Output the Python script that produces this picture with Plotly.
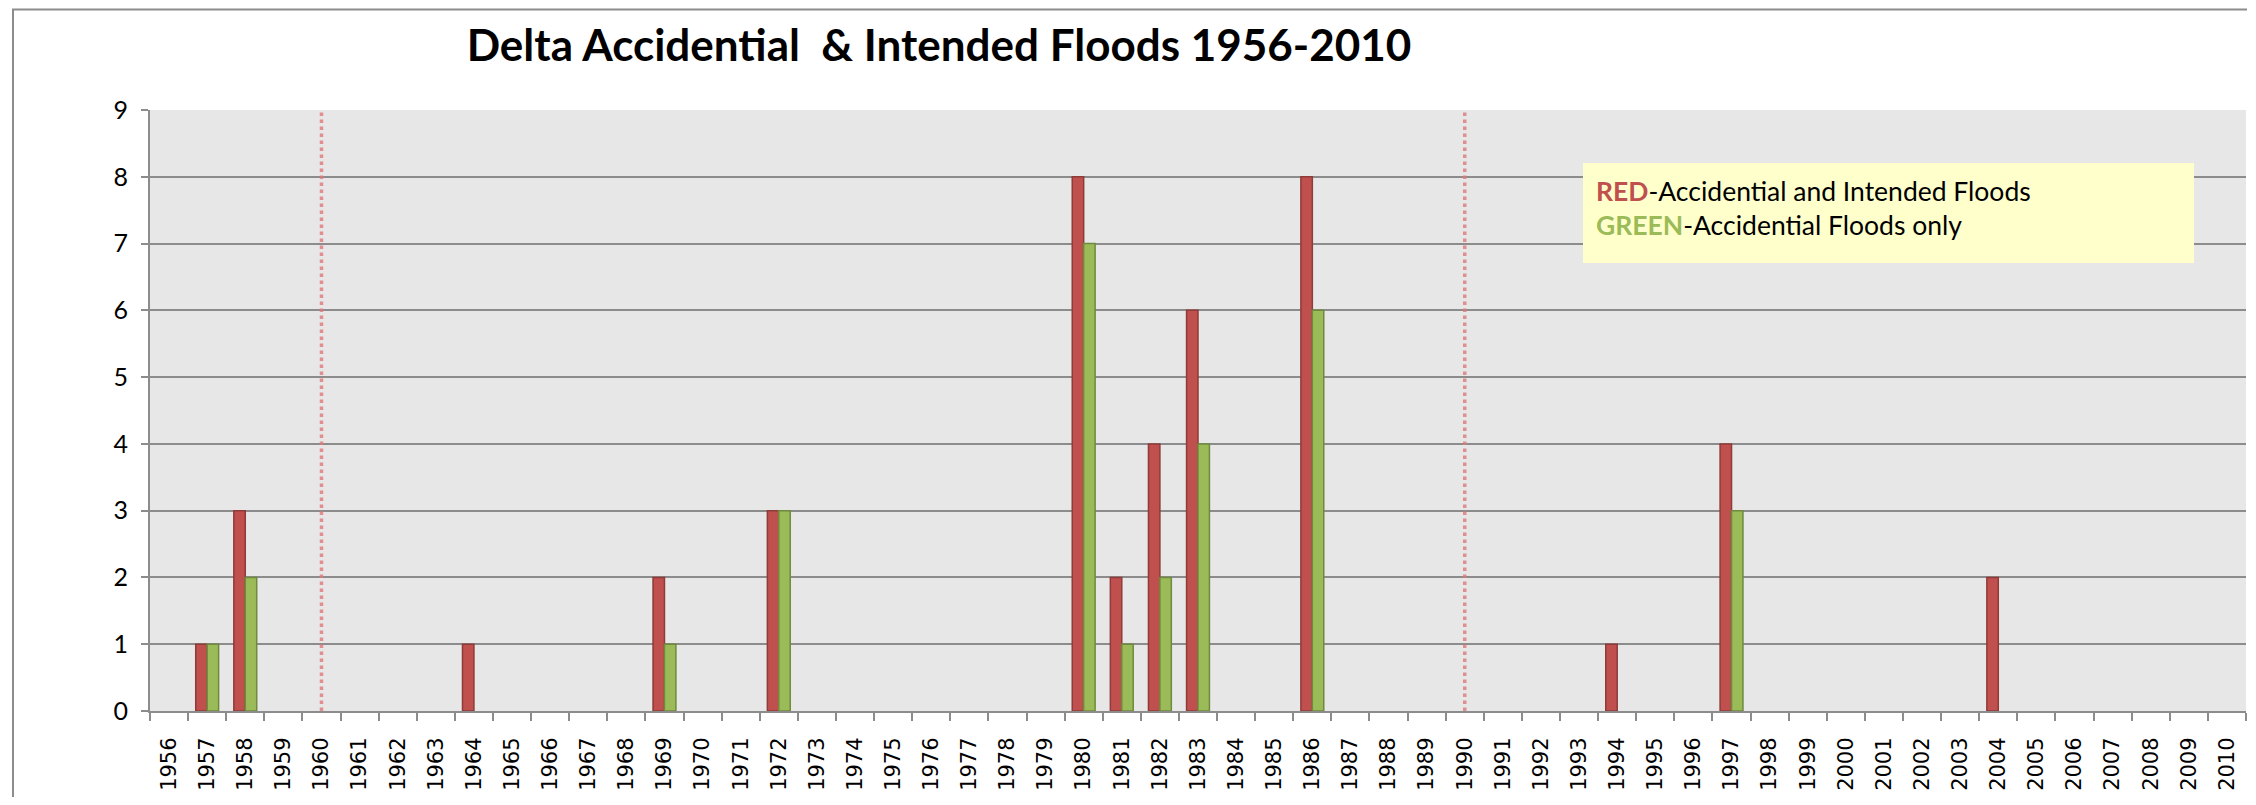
import plotly.graph_objects as go

years = [str(y) for y in range(1956, 2011)]
red_counts = {1957: 1, 1958: 3, 1964: 1, 1969: 2, 1972: 3, 1980: 8, 1981: 2,
              1982: 4, 1983: 6, 1986: 8, 1994: 1, 1997: 4, 2004: 2}
green_counts = {1957: 1, 1958: 2, 1969: 1, 1972: 3, 1980: 7, 1981: 1,
                1982: 2, 1983: 4, 1986: 6, 1997: 3}
red_values = [red_counts.get(int(y), 0) for y in years]
green_values = [green_counts.get(int(y), 0) for y in years]
divider_years = ["1960", "1990"]
y_ticks = list(range(0, 10))

# page body has an 8px margin; figure sized to fit inside the window
OFF = 8
W, H = 2256 - 2 * OFF, 805 - 2 * OFF
# plot area in reference (window) pixels: x 150..2246, y 110..711
L = 150 - OFF
T = 110 - OFF
R = W - (2246 - OFF)
B = H - (711 - OFF)
pw, ph = W - L - R, H - T - B

def px(x):
    return (x - OFF - L) / pw

def py(y):
    return (H - B - (y - OFF)) / ph

def outline(vals, w):
    return [w if v > 0 else 0 for v in vals]

fig = go.Figure()
fig.add_trace(go.Bar(x=years, y=red_values, name="Accidential and Intended",
                     marker=dict(color="#C0504D",
                                 line=dict(color="#8E3B39", width=outline(red_values, 1.5)))))
fig.add_trace(go.Bar(x=years, y=green_values, name="Accidential only",
                     marker=dict(color="#9BBB59",
                                 line=dict(color="#6F8A3C", width=outline(green_values, 1.5)))))

shapes = []
for yr in divider_years:
    idx = years.index(yr)
    shapes.append(dict(type="line", xref="x", yref="y", x0=idx, x1=idx, y0=0, y1=9.05,
                       line=dict(color="rgba(222,120,120,0.8)", width=3.5, dash="dot"),
                       layer="above"))
# legend box
shapes.append(dict(type="rect", xref="paper", yref="paper",
                   x0=px(1583), x1=px(2194), y0=py(263), y1=py(163),
                   fillcolor="#FFFFCC", line=dict(width=0), layer="above"))
# outer chart border
shapes.append(dict(type="path", xref="paper", yref="paper",
                   path=f"M {px(2247)} {py(9.5)} L {px(13)} {py(9.5)} L {px(13)} {py(810)}",
                   line=dict(color="#8C8C8C", width=2), layer="above"))

fig.update_layout(
    width=W, height=H,
    margin=dict(l=L, r=R, t=T, b=B, autoexpand=False),
    paper_bgcolor="white", plot_bgcolor="#E7E7E7",
    barmode="group", bargap=0.40, bargroupgap=0,
    showlegend=False,
    title=dict(text="<b>Delta Accidential  &amp; Intended Floods 1956-2010</b>",
               x=px(939), xanchor="center", y=1 - (46 - OFF) / H, yanchor="middle",
               xref="paper",
               font=dict(family="Lato", size=44, color="black")),
    shapes=shapes,
    annotations=[dict(
        xref="paper", yref="paper", x=px(1594), y=py(208), xanchor="left", yanchor="middle",
        align="left", showarrow=False,
        text=("<span style='color:#C0504D'><b>RED</b></span>-Accidential and Intended Floods<br>"
              "<span style='color:#9BBB59'><b>GREEN</b></span>-Accidential Floods only"),
        font=dict(family="Lato", size=26.5, color="black"))],
)
fig.update_xaxes(type="category", categoryorder="array", categoryarray=years,
                 range=[-0.5, len(years) - 0.5], tickmode="array", tickvals=years, ticktext=years,
                 tickson="boundaries", ticks="outside", ticklen=8, tickwidth=2,
                 tickcolor="#8C8C8C", tickangle=-90, automargin=False,
                 tickfont=dict(family="DejaVu Sans", size=21, color="black"),
                 showline=True, linecolor="#8C8C8C", linewidth=2,
                 showgrid=False, zeroline=False, ticklabelstandoff=16)
fig.update_yaxes(range=[0, 9], tickvals=y_ticks, ticks="outside", ticklen=7, tickwidth=2,
                 tickcolor="#8C8C8C", showline=True, linecolor="#8C8C8C", linewidth=2,
                 gridcolor="#8C8C8C", gridwidth=2, zeroline=False, automargin=False,
                 tickfont=dict(family="Lato", size=25, color="black"),
                 ticklabelstandoff=8)

fig.write_html("out.html")
